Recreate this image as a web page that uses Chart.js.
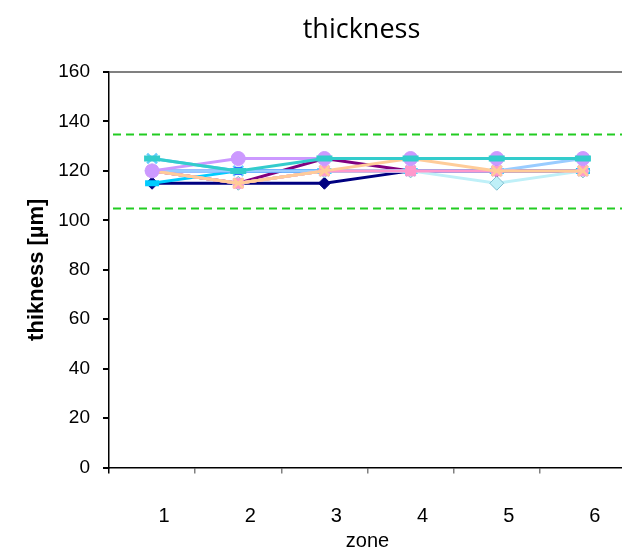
<!DOCTYPE html>
<html>
<head>
<meta charset="utf-8">
<script src="https://cdn.jsdelivr.net/npm/chart.js@4"></script>
<style>
    html, body { margin: 0; padding: 0; background: #fff; overflow: hidden; }
    #wrap { width: 640px; height: 553px; }
</style>
</head>
<body>
<div id="wrap"><canvas id="thicknessChart"></canvas></div>
<script>
// categories and limits
const zones = ['1', '2', '3', '4', '5', '6'];
const limitValues = [105, 135];
const chartTitle = 'thickness';

// measured thickness per sample, one array per series
const s1 = [115, 115, 115, 120, 120, 120];
const s2 = [120, 115, 120, 120, 120, 120];
const s3 = [120, 115, 120, 120, 120, 120];
const s4 = [125, 120, 120, 120, 120, 120];
const s5 = [120, 115, 125, 120, 120, 120];
const s6 = [115, 120, 120, 120, 120, 120];
const s7 = [120, 120, 120, 120, 120, 120];
const s8 = [120, 120, 120, 120, 120, 125];
const s9 = [120, 115, 120, 120, 115, 120];
const s10 = [120, 115, 120, 120, 120, 120];
const s11 = [120, 115, 120, 125, 120, 120];
const s12 = [120, 125, 125, 125, 125, 125];
const s13 = [125, 120, 125, 125, 125, 125];

const series = [
    { data: s1, color: '#000080', style: 'rectRot', r: 6 },
    { data: s2, color: '#FF00FF', style: 'rect', r: 5 },
    { data: s3, color: '#FFFF00', style: 'triangle', r: 6 },
    { data: s4, color: '#66CCFF', style: 'crossRot', r: 7 },
    { data: s5, color: '#800080', style: 'star', r: 6 },
    { data: s6, color: '#00CCFF', style: 'line', r: 7 },
    { data: s7, color: '#3366FF', style: 'rect', r: 5 },
    { data: s8, color: '#99CCFF', style: 'line', r: 6 },
    { data: s9, color: '#BFF0F8', style: 'rectRot', r: 7, edge: '#7FBFD0' },
    { data: s10, color: '#FF99CC', style: 'rect', r: 7 },
    { data: s11, color: '#FFCC99', style: 'crossRot', r: 7 },
    { data: s12, color: '#CC99FF', style: 'circle', r: 7 },
    { data: s13, color: '#33CCCC', style: 'line', r: 8 }
];

// later series drawn on top, as in the spreadsheet
const datasets = series.map(function (s, i) {
    return {
        label: 'sample ' + (i + 1),
        data: s.data,
        order: series.length - i,
        borderColor: s.color,
        backgroundColor: s.color,
        borderWidth: 3,
        pointStyle: s.style,
        pointRadius: s.r,
        pointBorderColor: s.edge || s.color,
        pointBackgroundColor: s.color,
        pointBorderWidth: s.style === 'line' ? 6 : (s.style === 'crossRot' || s.style === 'star' ? 2.5 : 1)
    };
});

// dashed tolerance lines across the whole plot area
const limitLines = {
    id: 'limitLines',
    beforeDatasetsDraw(chart) {
        const { ctx, chartArea, scales } = chart;
        ctx.save();
        ctx.strokeStyle = '#22CC22';
        ctx.lineWidth = 2;
        ctx.setLineDash([8, 5]);
        limitValues.forEach(function (v) {
            const y = Math.round(scales.y.getPixelForValue(v)) + 0.5;
            ctx.beginPath();
            ctx.moveTo(chartArea.left + 4, y);
            ctx.lineTo(chartArea.right, y);
            ctx.stroke();
        });
        ctx.restore();
    }
};

// title centred over the plot area
const plotTitle = {
    id: 'plotTitle',
    afterDraw(chart) {
        const { ctx, chartArea } = chart;
        ctx.save();
        ctx.fillStyle = '#000';
        ctx.font = '27px "Open Sans", sans-serif';
        ctx.textAlign = 'center';
        ctx.textBaseline = 'middle';
        ctx.fillText(chartTitle, (chartArea.left + chartArea.right) / 2 - 6, 30);
        ctx.restore();
    }
};

const family = '"Liberation Sans", Arial, sans-serif';

new Chart(document.getElementById('thicknessChart').getContext('2d'), {
    type: 'line',
    data: { labels: zones, datasets: datasets },
    options: {
        responsive: true,
        maintainAspectRatio: false,
        animation: false,
        layout: { padding: { top: 72, left: 0, right: 10, bottom: 0 } },
        plugins: {
            legend: { display: false },
            tooltip: { enabled: false }
        },
        elements: { line: { tension: 0 } },
        scales: {
            x: {
                offset: true,
                afterFit: function (s) { s.height = 85.5; },
                grid: {
                    offset: true,
                    drawOnChartArea: false,
                    tickLength: 6,
                    tickColor: function (c) { return c.index === 0 ? '#000' : '#808080'; },
                    lineWidth: 1.5
                },
                border: { color: '#000', width: 1.5 },
                ticks: { color: '#000', font: { family: family, size: 20 }, padding: 31, labelOffset: 12 },
                title: { display: true, text: 'zone', color: '#000', font: { family: family, size: 20 }, padding: { top: 1, bottom: 0 } }
            },
            y: {
                min: 0,
                max: 160,
                afterFit: function (s) { s.width = 109; },
                ticks: { stepSize: 20, color: '#000', font: { family: family, size: 19 }, padding: 13 },
                grid: {
                    tickLength: 6,
                    tickColor: '#000',
                    lineWidth: 2,
                    color: function (c) { return c.tick && c.tick.value === 160 ? '#808080' : 'rgba(0,0,0,0)'; }
                },
                border: { color: '#000', width: 1.5 },
                title: {
                    display: true,
                    text: 'thikness [µm]',
                    color: '#000',
                    font: { family: family, size: 22, weight: 'bold' },
                    padding: { top: 24, bottom: 0 }
                }
            }
        }
    },
    plugins: [limitLines, plotTitle]
});
</script>
</body>
</html>
